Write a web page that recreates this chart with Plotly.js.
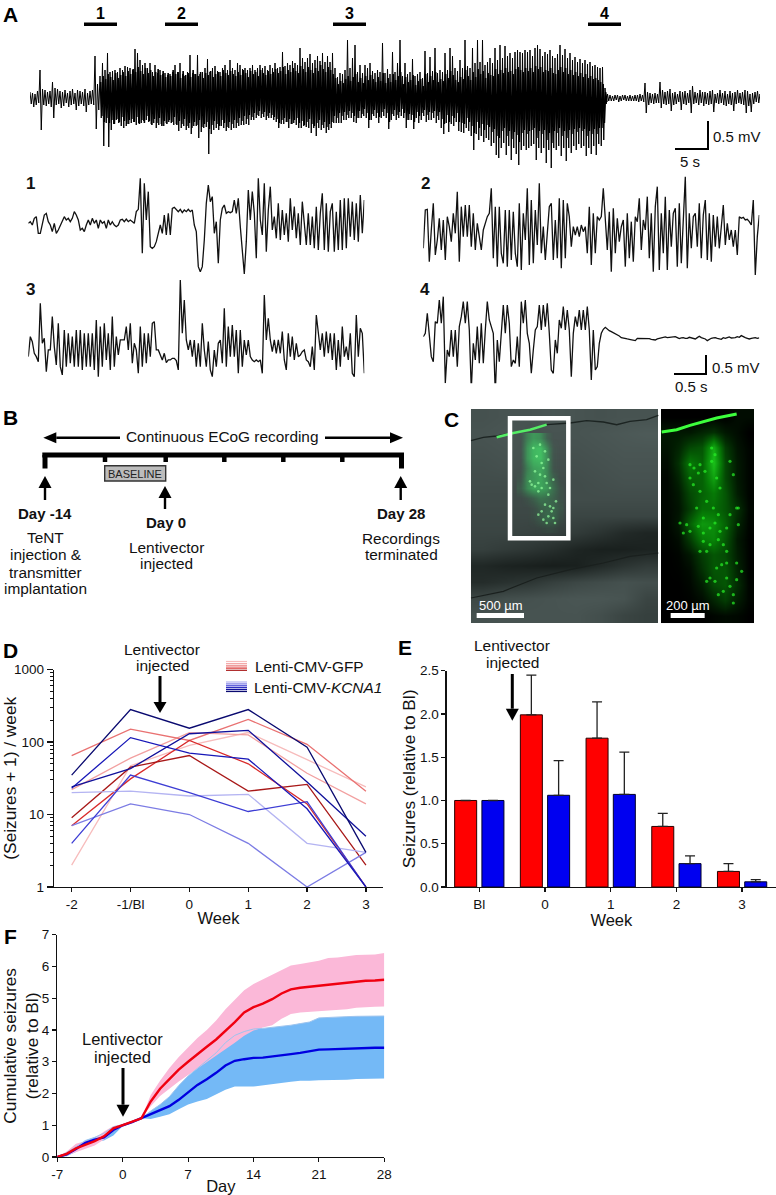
<!DOCTYPE html>
<html><head><meta charset="utf-8">
<script src="https://cdn.plot.ly/plotly-3.0.1.min.js"></script>
<style>html,body{margin:0;padding:0;background:#fff}#c{width:776px;height:1195px}</style>
</head><body><div id="c"></div>
<script>
// ---------- Panel A: full-length ECoG trace, upper and lower excursions per sample ----------
const ecogUp=[6,5,4,7,28,9,8,6,7,16,10,9,7,6,8,5,7,9,5,8,7,6,9,5,7,8,42,14,22,35,28,45,26,27,28,26,30,28,32,31,
30,28,49,45,38,33,35,30,35,26,33,25,28,24,25,23,24,26,33,26,35,24,22,26,43,25,24,43,24,26,30,39,26,30,32,27,26,30,33,28,
38,30,28,35,33,29,30,28,30,33,28,30,33,30,32,28,33,30,35,30,31,46,32,35,33,37,35,33,50,40,36,40,44,35,38,42,37,45,36,42,
36,45,30,21,25,24,28,58,30,40,53,26,33,25,33,30,35,27,25,28,26,55,25,29,24,46,26,35,58,22,35,24,26,39,22,24,26,20,47,25,
41,27,50,25,28,26,45,28,50,42,30,27,38,30,58,32,30,50,35,58,36,58,33,36,40,35,50,38,53,40,52,42,45,40,46,48,46,45,48,46,
48,42,50,53,49,42,46,44,48,42,40,44,53,43,49,40,45,38,41,36,39,35,38,34,36,32,33,31,30,31,10,4,3,2,3,3,2,3,3,2,
3,2,3,3,4,3,15,6,5,4,5,4,16,8,6,7,9,5,6,4,7,6,7,5,8,12,6,5,8,6,6,5,7,8,4,5,8,5,7,4,
7,5,6,8,5,6,8,7,4,5,6,7,4];
const ecogDown=[6,9,7,5,32,7,8,6,9,20,7,6,10,8,5,9,7,6,12,8,6,8,14,7,6,7,31,12,20,48,25,49,32,26,22,25,28,30,28,26,
25,24,27,25,25,23,22,24,26,25,30,27,26,28,25,24,25,27,26,33,30,28,32,30,36,28,28,40,34,30,29,56,36,32,30,32,28,30,33,30,
32,30,30,28,27,27,26,27,22,22,20,18,20,19,22,20,20,22,24,30,26,26,24,30,26,25,27,30,30,28,29,30,35,30,38,30,32,30,35,32,
30,25,25,25,25,22,22,20,20,24,25,20,20,18,20,30,22,18,20,25,20,18,20,31,22,18,22,20,18,20,30,22,22,31,20,25,22,18,24,22,
22,20,25,22,30,36,25,34,26,28,24,33,34,35,30,33,38,52,36,42,38,44,40,42,48,45,57,60,50,45,57,48,62,50,56,67,52,48,52,50,
48,46,62,50,55,50,65,52,70,50,52,48,58,50,63,50,55,48,52,46,50,48,58,50,56,48,57,46,48,42,6,3,3,3,2,4,3,2,3,3,
3,3,3,4,3,4,15,7,5,6,5,5,10,6,7,6,13,7,6,4,12,6,7,5,15,6,5,7,5,8,6,7,6,14,5,6,5,7,8,6,
7,13,6,5,6,7,15,8,14,6,4,5,3];
// smaller oscillations of the dense seizure stretch, between the large excursions above
const ecogMidStart=28;
const ecogMidUp=[16,22,19,24,21,18,25,20,23,26,22,27,
24,29,26,31,27,24,30,25,28,22,26,29,23,27,21,25,22,28,24,26,20,27,23,25,21,28,24,22,26,20,25,23,27,21,24,26,22,28,25,23,
27,24,22,26,23,28,25,21,27,24,26,22,28,25,23,27,24,26,29,25,27,31,24,28,26,30,27,25,32,29,26,31,28,25,30,27,33,29,26,31,
28,24,20,14,17,15,19,22,17,21,24,16,20,15,22,18,23,19,16,21,17,25,15,20,16,24,18,22,26,14,21,16,18,23,13,17,19,12,24,16,
22,18,26,16,19,17,24,20,27,23,18,16,21,19,28,22,18,26,21,29,24,27,20,25,23,22,29,24,28,25,30,26,27,24,29,31,28,26,30,27,
30,26,32,29,31,26,28,27,30,25,24,28,31,26,30,24,28,23,26,22,25,21,24,20,22,19,20,18,16,14,6];
const ecogMidDown=[18,24,20,25,22,26,21,24,19,23,26,22,
21,24,19,26,22,25,18,23,27,21,25,20,28,23,26,22,24,19,27,23,26,21,28,25,30,24,27,22,29,26,24,31,27,23,26,28,22,25,29,24,
26,22,25,20,23,18,21,17,19,15,17,13,16,14,18,15,17,19,21,25,22,20,24,21,26,22,20,25,23,27,24,21,26,28,25,22,27,24,29,26,
24,18,20,15,18,14,17,13,15,18,20,13,16,11,15,22,16,12,15,19,14,11,15,24,16,12,17,14,11,15,22,16,17,24,14,18,15,12,17,14,
15,13,18,14,21,26,17,24,18,20,15,24,25,26,20,24,28,35,24,30,26,32,27,29,34,31,38,40,33,30,38,33,41,34,37,44,35,32,36,33,
32,30,40,33,36,32,42,35,45,33,35,30,38,33,40,32,36,31,34,30,33,31,38,33,36,31,36,30,30,25,4];
const burstLabels=['1','2','3','4'];

// ---------- Panel A insets: expanded traces ----------
const inset1=[160,155,165,145,140,190,190,160,135,130,155,165,185,160,190,180,165,155,140,150,145,155,145,125,135,150,180,175,185,165,150,165,145,160,150,175,150,160,155,175,150,165,155,165,170,165,150,148,155,147,155,150,155,160,125,118,25,250,40,150,65,230,235,230,215,190,165,190,135,195,130,195,115,112,120,125,118,128,120,125,118,125,120,165,185,290,305,290,210,100,45,95,80,190,155,280,150,115,105,130,125,128,125,90,130,85,170,240,312,215,60,150,65,130,265,25,150,195,40,245,120,50,180,140,205,100,210,120,195,130,215,85,180,110,205,130,225,95,150,225,130,225,140,235,110,240,130,70,240,100,245,125,100,245,125,240,90,240,85,235,85,200,95,210,100,215,75,190,90];
const inset3=[560,500,515,550,560,575,400,520,505,605,540,540,440,530,585,460,590,615,480,590,490,580,500,590,480,590,480,600,490,590,490,590,490,600,450,620,470,590,460,570,490,600,440,590,500,555,510,510,510,470,540,460,580,520,540,610,470,590,490,580,490,560,460,455,540,540,555,570,550,578,570,570,565,565,572,600,330,490,390,510,540,510,560,510,590,520,590,460,540,590,515,600,620,540,590,520,510,580,415,590,470,560,465,560,480,610,480,590,510,555,510,560,570,575,570,575,570,610,375,510,445,510,545,510,550,510,550,485,570,600,490,560,500,570,520,560,555,545,540,570,575,590,530,600,435,490,540,490,560,485,550,490,570,490,600,510,590,470,560,530,570,490,610,620,435,560,475,490,610];
const inset2=[235,120,118,275,180,100,255,210,145,240,150,270,140,170,215,130,190,65,275,110,200,105,200,105,230,130,240,160,200,240,180,160,140,130,55,265,110,290,110,250,280,120,290,120,270,125,250,290,100,300,130,210,55,285,90,280,120,225,40,250,170,270,190,110,100,270,150,265,85,295,90,265,100,140,230,170,195,170,200,165,185,170,250,110,285,130,250,140,150,140,55,160,240,125,305,115,250,145,215,170,150,290,130,265,155,275,140,155,85,240,150,180,80,265,130,305,110,50,300,130,250,80,300,120,230,130,115,290,100,280,145,20,295,130,235,140,130,230,100,265,135,90,270,130,275,135,230,140,235,170,105,225,160,210,180,230,180,255,140,145,142,150,148,155,165,90,315,200,135];
const inset4=[500,490,430,500,560,575,455,460,390,460,380,640,540,560,480,560,480,590,470,440,395,460,395,480,660,520,570,470,580,460,580,480,395,450,470,490,670,510,575,490,405,490,405,460,590,570,580,500,590,395,460,390,490,520,610,540,480,470,405,480,405,470,400,490,600,610,510,550,450,475,410,480,420,480,620,490,440,470,420,480,420,480,410,480,630,480,600,590,520,490,478,472,478,482,485,488,490,495,498,503,505,506,507,508,510,512,512,505,505,507,505,506,507,506,508,508,510,507,505,505,502,501,503,502,503,500,500,503,506,504,503,505,505,502,503,505,507,503,499,503,505,507,512,508,505,504,503,505,506,508,503,505,503,501,504,504,503,500,502,497,501,503,505,507,505,504,503,505,504];

// ---------- Panel C: micrograph brightness grids and cell positions (image coordinates) ----------
const sliceGrey=[[60,62,62,64,62,60,62,62],[62,64,60,62,62,64,66,68],[60,62,60,60,60,62,64,64],[58,60,58,58,58,60,62,62],[56,56,56,55,56,58,60,60],[54,54,54,55,56,56,56,56],[52,52,52,52,50,50,50,50],[50,50,48,46,42,36,28,24],[46,42,38,32,24,20,20,22],[26,22,20,18,20,28,36,42],[30,34,38,46,52,56,60,58],[52,58,60,62,64,64,62,50],[60,62,62,62,62,58,50,46]];
const sliceGreen=[[0,.4,.6,.5,.15,0,0],[0,.55,.8,.85,.5,.05,0],[0,.55,.8,.85,.55,.05,0],[0,.4,.65,.7,.5,.05,0],[.05,.5,.6,.7,.5,.2,0],[.15,.5,.7,.7,.6,.3,.05],[0,.08,.2,.35,.3,.2,.05],[0,0,.05,.18,.25,.25,.1],[0,0,.05,.18,.3,.25,.05],[0,0,0,.02,.05,.05,0]];
const zoomGreen=[[0,0,0,0,0,0,.05,.05],[.1,.1,.1,.15,.2,.1,.05,0],[.08,.15,.3,.35,.75,.25,.08,.02],[.05,.2,.5,.4,.85,.3,.1,.02],[.03,.15,.4,.4,.7,.3,.1,.02],[.03,.1,.3,.4,.5,.35,.12,.02],[.03,.08,.25,.45,.45,.35,.2,.03],[.02,.1,.4,.65,.6,.4,.15,.02],[.01,.05,.25,.5,.55,.35,.1,.01],[0,.02,.1,.25,.35,.3,.12,.01],[0,.01,.05,.2,.35,.35,.15,.01],[0,0,.03,.12,.3,.35,.18,.02],[0,0,.01,.05,.15,.25,.12,.02],[0,0,0,0,.02,.04,.03,0]];
const cellsZoomX=[660,672,690,705,660,670,690,710,680,650,630,660,685,700,720,735,750,770,745,780,805,805,700,720,745,760,770,710,690,740,800,755,770,720,735,760,780,790,745,800,790,770,815,710,800,640,685,725,735,725,740,750,700,730,780,790];
const cellsZoomY=[170,180,170,190,210,230,250,280,300,350,345,370,355,375,360,345,370,360,320,320,300,350,400,410,395,410,430,430,430,480,465,470,465,510,520,550,535,560,560,515,585,510,490,520,300,375,195,120,140,160,210,240,330,300,160,200];
const cellsSliceX=[215,225,240,250,235,250,220,255,245,258,205,230,195,240,215,250,185,180,210,205,230,190,200,215,225,235,210,195,220,205,235,225];
const cellsSliceY=[310,290,295,300,325,330,335,345,310,280,225,225,235,240,240,215,230,220,200,320,345,120,145,165,130,155,110,190,180,250,260,205];
const surfaceX=[3,40,80,130,180,230,300,350,400,440,480,530,565];
const surfaceY=[98,88,84,75,65,50,45,38,42,50,40,35,22];
const tractX=[3,100,200,300,400,480,565];
const tractY=[570,550,510,485,465,445,435];
const zoomSurfaceX=[575,620,660,700,740,800];
const zoomSurfaceY=[72,65,52,42,30,18];
const sliceSurfaceX=[80,130,180,230];
const sliceSurfaceY=[88,75,65,50];

// ---------- Panel D ----------
const weekLabelsD=['-2','-1/Bl','0','1','2','3'];
const gfp1=[2,47,90,135,57,24];
const gfp2=[22,60,135,125,37,14];
const gfp3=[65,150,105,205,93,21];
const gfp4=[7,31,105,50,14,1];
const gfp5=[9,45,65,21,26,2];
const kcna1=[20,21,18,19,4,3];
const kcna2=[7,14,10,4,1,3];
const kcna3=[4,35,20,11,15,1];
const kcna4=[23,115,70,58,12,1];
const kcna5=[24,43,130,145,28,5];
const kcna6=[35,280,155,280,85,3];
const gfpColors=['#f7bcbc','#f2a0a0','#e97272','#d92b2b','#a81818'];
const kcnaColors=['#b4b4f2','#7c7ce4','#3d3dd4','#1818b8','#10109a','#0a0a70'];

// ---------- Panel E ----------
const weekLabelsE=['Bl','0','1','2','3'];
const redMeansE=[1,1.99,1.72,0.70,0.18];
const redErrE=[0,0.46,0.42,0.15,0.09];
const blueMeansE=[1,1.06,1.07,0.27,0.06];
const blueErrE=[0,0.40,0.49,0.09,0.025];

// ---------- Panel F ----------
const days=[-7,-6,-5,-4,-3,-2,-1,0,1,2,3,4,5,6,7,8,9,10,11,12,13,14,15,16,17,18,19,20,21,22,23,24,25,26,27,28];
const dayTicks=[-7,0,7,14,21,28];
const dayTickLabels=['-7','0','7','14','21','28'];
const redMean=[0,.1,.27,.38,.5,.65,.9,1,1.1,1.22,1.75,2.15,2.45,2.75,3,3.25,3.47,3.7,3.97,4.25,4.55,4.72,4.83,4.97,5.15,5.28,5.33,5.36,5.4,5.44,5.47,5.5,5.53,5.55,5.56,5.58];
const redUpper=[0,.17,.42,.5,.58,.8,.98,1.02,1.13,1.22,1.95,2.4,2.8,3.15,3.45,3.75,4,4.3,4.65,4.95,5.25,5.45,5.6,5.75,5.9,6.03,6.08,6.12,6.18,6.27,6.28,6.32,6.36,6.37,6.38,6.42];
const redLower=[0,.05,.15,.25,.36,.55,.8,.98,1.07,1.22,1.6,1.92,2.15,2.38,2.6,2.8,3,3.2,3.4,3.6,3.82,3.98,4.08,4.15,4.35,4.5,4.55,4.58,4.6,4.62,4.63,4.65,4.7,4.72,4.73,4.74];
const blueMean=[0,.08,.25,.45,.55,.62,.85,1,1.1,1.22,1.35,1.47,1.6,1.8,2.05,2.27,2.45,2.65,2.88,3.03,3.08,3.12,3.13,3.16,3.2,3.24,3.28,3.32,3.38,3.39,3.4,3.41,3.44,3.44,3.44,3.44];
const blueUpper=[0,.14,.32,.52,.62,.75,.95,1.02,1.12,1.22,1.45,1.65,1.9,2.25,2.55,2.8,3.05,3.28,3.6,3.83,3.95,4.03,4.05,4.08,4.12,4.15,4.2,4.25,4.38,4.4,4.41,4.42,4.43,4.44,4.44,4.44];
const blueLower=[0,.02,.16,.36,.48,.52,.68,.98,1.08,1.22,1.2,1.27,1.35,1.5,1.65,1.75,1.83,1.97,2.12,2.22,2.22,2.22,2.25,2.28,2.33,2.37,2.4,2.4,2.42,2.42,2.43,2.43,2.46,2.46,2.47,2.47];

// ---------- helpers ----------
const W=776,H=1195,FONT='Liberation Sans, Arial, sans-serif';
const dx=(a,b)=>[a/W,b/W], dy=(t,b)=>[1-b/H,1-t/H];
const px=x=>x/W, py=y=>1-y/H;
const shapes=[],annotations=[];
function T(text,x,y,size,o={}){annotations.push(Object.assign({xref:'paper',yref:'paper',x:px(x),y:py(y),text,showarrow:false,xanchor:'center',yanchor:'middle',font:{family:FONT,size,color:o.color||'#111'}},o.extra||{}));}
function L(x0,y0,x1,y1,w,c='#000'){shapes.push({type:'line',xref:'paper',yref:'paper',x0:px(x0),y0:py(y0),x1:px(x1),y1:py(y1),line:{color:c,width:w}});}
function R(x0,y0,x1,y1,fill,lc,lw){shapes.push({type:'rect',xref:'paper',yref:'paper',x0:px(x0),y0:py(y0),x1:px(x1),y1:py(y1),fillcolor:fill,line:{color:lc||fill,width:lw||0}});}
function tri(x1,y1,x2,y2,x3,y3){shapes.push({type:'path',xref:'paper',yref:'paper',path:`M${px(x1)},${py(y1)} L${px(x2)},${py(y2)} L${px(x3)},${py(y3)} Z`,fillcolor:'#000',line:{width:0}});}
function arrowV(x,y0,tip,hw,hl,w){const s=tip>y0?1:-1;L(x,y0,x,tip-s*hl,w);tri(x-hw,tip-s*hl,x+hw,tip-s*hl,x,tip);}
function arrowH(x0,tip,y,hw,hl,w){const s=tip>x0?1:-1;L(x0,y,tip-s*hl,y,w);tri(tip-s*hl,y-hw,tip-s*hl,y+hw,tip,y);}

const traces=[];
// Panel A
const zigX=[],zigY=[];
ecogUp.forEach((u,i)=>{zigX.push(i);zigY.push(u);zigX.push(i+.5);zigY.push(-ecogDown[i]);});
traces.push({type:'scatter',mode:'lines',x:zigX,y:zigY,xaxis:'x',yaxis:'y',line:{color:'#000',width:1},hoverinfo:'skip'});
const midX=[],midY=[];
ecogMidUp.forEach((u,i)=>{const k=i+ecogMidStart;midX.push(k+.25);midY.push(u);midX.push(k+.75);midY.push(-ecogMidDown[i]);});
traces.push({type:'scatter',mode:'lines',x:midX,y:midY,xaxis:'x',yaxis:'y',line:{color:'#000',width:1.6},hoverinfo:'skip'});
// Insets
[[inset1,'x2'],[inset3,'x2'],[inset2,'x3'],[inset4,'x3']].forEach(([v,ax])=>traces.push({type:'scatter',mode:'lines',x:v.map((_,i)=>i),y:v,xaxis:ax,yaxis:'y2',line:{color:'#111',width:1.3},hoverinfo:'skip'}));

// Panel C
const cAx={xaxis:'x9',yaxis:'y9',hoverinfo:'skip',showscale:false};
traces.push(Object.assign({type:'heatmap',z:sliceGrey,x0:38.1,dx:70.25,y0:27.7,dy:49.4,zmin:15,zmax:70,zsmooth:'best',colorscale:[[0,'#141a18'],[1,'#505d5b']]},cAx));
traces.push({type:'scatter',mode:'lines',x:surfaceX,y:surfaceY,xaxis:'x9',yaxis:'y9',line:{color:'#1c2422',width:1.4},hoverinfo:'skip'});
traces.push({type:'scatter',mode:'lines',x:tractX,y:tractY,xaxis:'x9',yaxis:'y9',line:{color:'#1a201e',width:1.2},hoverinfo:'skip'});
traces.push(Object.assign({type:'heatmap',z:sliceGreen,x0:150,dx:20,y0:90,dy:30,zmin:0,zmax:1,zsmooth:'best',colorscale:[[0,'rgba(40,200,90,0)'],[1,'rgba(70,240,110,0.85)']]},cAx));
traces.push({type:'scatter',mode:'lines',x:sliceSurfaceX,y:sliceSurfaceY,xaxis:'x9',yaxis:'y9',line:{color:'#55ee66',width:2.5},hoverinfo:'skip'});
traces.push({type:'scatter',mode:'markers',x:cellsSliceX,y:cellsSliceY,xaxis:'x9',yaxis:'y9',marker:{color:'rgba(150,255,160,.7)',size:2.6},hoverinfo:'skip'});
traces.push(Object.assign({type:'heatmap',z:zoomGreen,x0:590.5,dx:35,y0:26,dy:45.86,zmin:0,zmax:1,zsmooth:'best',colorscale:[[0,'#000000'],[.5,'#067a06'],[1,'#22e022']]},cAx));
traces.push({type:'scatter',mode:'lines',x:zoomSurfaceX,y:zoomSurfaceY,xaxis:'x9',yaxis:'y9',line:{color:'#3dff3d',width:3},hoverinfo:'skip'});
traces.push({type:'scatter',mode:'markers',x:cellsZoomX,y:cellsZoomY,xaxis:'x9',yaxis:'y9',marker:{color:'rgba(40,240,40,.7)',size:3.2},hoverinfo:'skip'});

// Panel D
const idx=weekLabelsD.map((_,i)=>i);
[gfp1,gfp2,gfp3,gfp4,gfp5].forEach((v,i)=>traces.push({type:'scatter',mode:'lines',x:idx,y:v,xaxis:'x6',yaxis:'y6',line:{color:gfpColors[i],width:1.3},hoverinfo:'skip'}));
[kcna1,kcna2,kcna3,kcna4,kcna5,kcna6].forEach((v,i)=>traces.push({type:'scatter',mode:'lines',x:idx,y:v,xaxis:'x6',yaxis:'y6',line:{color:kcnaColors[i],width:1.3},hoverinfo:'skip'}));

// Panel E
const idxE=weekLabelsE.map((_,i)=>i);
const errE=a=>({type:'data',symmetric:false,array:a,arrayminus:a.map(()=>0),color:'#222',thickness:1.3,width:5});
traces.push({type:'bar',x:idxE,y:redMeansE,width:.335,offset:-.375,xaxis:'x7',yaxis:'y7',marker:{color:'#ff0000',line:{color:'#2a0000',width:1}},error_y:errE(redErrE),hoverinfo:'skip'});
traces.push({type:'bar',x:idxE,y:blueMeansE,width:.335,offset:.04,xaxis:'x7',yaxis:'y7',marker:{color:'#0000f0',line:{color:'#00002a',width:1}},error_y:errE(blueErrE),hoverinfo:'skip'});

// Panel F
const band=(u,l,c)=>({type:'scatter',mode:'lines',x:days.concat(days.slice().reverse()),y:u.concat(l.slice().reverse()),fill:'toself',fillcolor:c,line:{width:0},xaxis:'x8',yaxis:'y8',hoverinfo:'skip'});
traces.push(band(blueUpper,blueLower,'#74b9f6'));
traces.push(band(redUpper,redLower,'#fbb8d8'));
traces.push({type:'scatter',mode:'lines',x:days,y:blueUpper,xaxis:'x8',yaxis:'y8',line:{color:'#9dc4ee',width:1},hoverinfo:'skip'});
traces.push({type:'scatter',mode:'lines',x:days,y:blueMean,xaxis:'x8',yaxis:'y8',line:{color:'#0000e0',width:2.4},hoverinfo:'skip'});
traces.push({type:'scatter',mode:'lines',x:days,y:redMean,xaxis:'x8',yaxis:'y8',line:{color:'#f00010',width:2.4},hoverinfo:'skip'});

// Panel labels
[['A',10,15],['B',10,417],['C',451,419],['D',10,650],['E',405,648],['F',10,936]].forEach(([t,x,y])=>T('<b>'+t+'</b>',x,y,21,{color:'#000'}));

// A annotations
[[84,117],[165,198],[333,366],[588,621]].forEach(([a,b],i)=>{R(a,22.5,b,26,'#000');T('<b>'+burstLabels[i]+'</b>',(a+b)/2,13.5,16,{color:'#000'});});
L(708,121,708,150,2);L(675,149,709,149,2);T('0.5 mV',737,136,15);T('5 s',690,161,15);
T('<b>1</b>',30,183,17);T('<b>3</b>',31,290,17);T('<b>2</b>',425,183,17);T('<b>4</b>',425,290,17);
L(706,355,706,375,2);L(674,374,707,374,2);T('0.5 mV',736,367,15);T('0.5 s',691,386,15);

// B schematic
arrowH(120,43.3,437.7,5.5,13,2.4);arrowH(325,403,437.7,5.5,13,2.4);
T('Continuous ECoG recording',223,437,15.4);
L(42.3,455,404,455,5);L(45,455,45,468.5,5);L(401.5,455,401.5,468.5,5);
[105,165.7,224.3,283.3,342.3].forEach(x=>L(x,455,x,462,4.5));
R(104.7,465.7,165.7,481,'#bcbcbc','#333',1.4);T('BASELINE',135.3,473.7,11,{color:'#222'});
arrowV(45,500,476,6.5,12,2.4);arrowV(165,509,486,6.5,12,2.4);arrowV(400.7,500,476,6.5,12,2.4);
T('<b>Day -14</b>',44.7,513,15);T('<b>Day 0</b>',165.5,522.7,15);T('<b>Day 28</b>',401,513,15);
[['TeNT',537.7],['injection &',555],['transmitter',572],['implantation',589]].forEach(([t,y])=>T(t,45.5,y,15.4));
T('Lentivector',166,547,15.4);T('injected',166,564,15.4);
T('Recordings',401,538,15.4);T('terminated',401,555,15.4);

// C annotations
const cA=(text,x,y)=>annotations.push({xref:'x9',yref:'y9',x,y,text,showarrow:false,xanchor:'center',yanchor:'middle',font:{family:FONT,size:13,color:'#fff'}});
cA('500 µm',92,592);cA('200 µm',654,592);
const cShape=(x0,y0,x1,y1,o)=>shapes.push(Object.assign({type:'rect',xref:'x9',yref:'y9',x0,y0,x1,y1},o));
cShape(120,31,295,391,{line:{color:'#fff',width:4.5},fillcolor:'rgba(0,0,0,0)'});
cShape(20,615,162,630,{line:{width:0},fillcolor:'#fff'});
cShape(602,615,704,630,{line:{width:0},fillcolor:'#fff'});

// D annotations + legend
T('Lentivector',162,649,15.5);T('injected',162,665.7,15.5);arrowV(160,676,713,6.5,11,3);
gfpColors.forEach((c,i)=>L(226,661.5+i*2.2,247,661.5+i*2.2,1.2,c));
kcnaColors.forEach((c,i)=>L(226,682+i*1.9,247,682+i*1.9,1.2,c));
T('Lenti-CMV-GFP',253,666,15.4,{extra:{xanchor:'left'}});
T('Lenti-CMV-<i>KCNA1</i>',252,687,15.4,{extra:{xanchor:'left'}});

// E annotations
T('Lentivector',512,645.7,15.5);T('injected',512,662.7,15.5);arrowV(512.3,674,720.7,6.5,12,3);
// F annotations
T('Lentivector',122.7,1039,16.5);T('injected',122.7,1057,16.5);arrowV(123,1068,1116.7,6.5,12,3);

const tick={family:FONT,size:13.5,color:'#111'};
const ttl={family:FONT,size:16.5,color:'#111'};
const yTtl={family:FONT,size:17.3,color:'#111'};
const axis=o=>Object.assign({showline:true,linecolor:'#111',linewidth:1.3,ticks:'outside',tickcolor:'#111',tickwidth:1.2,ticklen:4,showgrid:false,zeroline:false,tickfont:tick,fixedrange:true},o);
const hidden=o=>Object.assign({visible:false,fixedrange:true},o);
const logMinor=[];[1,10,100].forEach(d=>[2,3,4,5,6,7,8,9].forEach(m=>logMinor.push(m*d)));

const layout={width:W,height:H,margin:{l:0,r:0,t:0,b:0},paper_bgcolor:'#fff',plot_bgcolor:'rgba(0,0,0,0)',showlegend:false,barmode:'overlay',shapes,annotations,font:{family:FONT},
 xaxis:hidden({domain:dx(30,760),range:[0,ecogUp.length-1],anchor:'y'}),
 yaxis:hidden({domain:dy(30,170),range:[-72,68],anchor:'x'}),
 xaxis2:hidden({domain:dx(28.3,364.3),range:[0,168],anchor:'y2'}),
 xaxis3:hidden({domain:dx(423.3,759.3),range:[0,168],anchor:'y2'}),
 yaxis2:hidden({domain:dy(170,383.3),range:[640,0],anchor:'x2'}),
 xaxis9:hidden({domain:dx(470,760),range:[0,870],anchor:'y9'}),
 yaxis9:hidden({domain:dy(408,626),range:[654,0],anchor:'x9'}),
 xaxis6:axis({domain:dx(54,383),range:[-.3,5.29],anchor:'y6',tickmode:'array',tickvals:idx,ticktext:weekLabelsD,title:{text:'Week',font:ttl,standoff:2}}),
 yaxis6:axis({domain:dy(669.5,887),type:'log',range:[0,3],anchor:'x6',tickmode:'array',tickvals:[1,10,100,1000],ticktext:['1','10','100','1000'],ticklen:6,minor:{tickmode:'array',tickvals:logMinor,ticks:'outside',ticklen:3,tickcolor:'#111',tickwidth:1},title:{text:'(Seizures + 1) / week',font:yTtl,standoff:0}}),
 xaxis7:axis({domain:dx(446.7,776),range:[-.496,4.516],anchor:'y7',tickmode:'array',tickvals:idxE,ticktext:weekLabelsE,title:{text:'Week',font:ttl,standoff:2}}),
 yaxis7:axis({domain:dy(670.7,887),range:[0,2.5],anchor:'x7',tickmode:'array',tickvals:[0,.5,1,1.5,2,2.5],ticktext:['0.0','0.5','1.0','1.5','2.0','2.5'],title:{text:'Seizures (relative to Bl)',font:yTtl,standoff:0}}),
 xaxis8:axis({domain:dx(57.3,384.3),range:[-7,28],anchor:'y8',tickmode:'array',tickvals:dayTicks,ticktext:dayTickLabels,title:{text:'Day',font:ttl,standoff:2}}),
 yaxis8:axis({domain:dy(934.7,1157),range:[0,7],anchor:'x8',tickmode:'array',tickvals:[0,1,2,3,4,5,6,7],title:{text:'Cumulative seizures<br>(relative to Bl)',font:yTtl,standoff:4}})
};
Plotly.newPlot('c',traces,layout,{staticPlot:true,displayModeBar:false});
</script></body></html>
